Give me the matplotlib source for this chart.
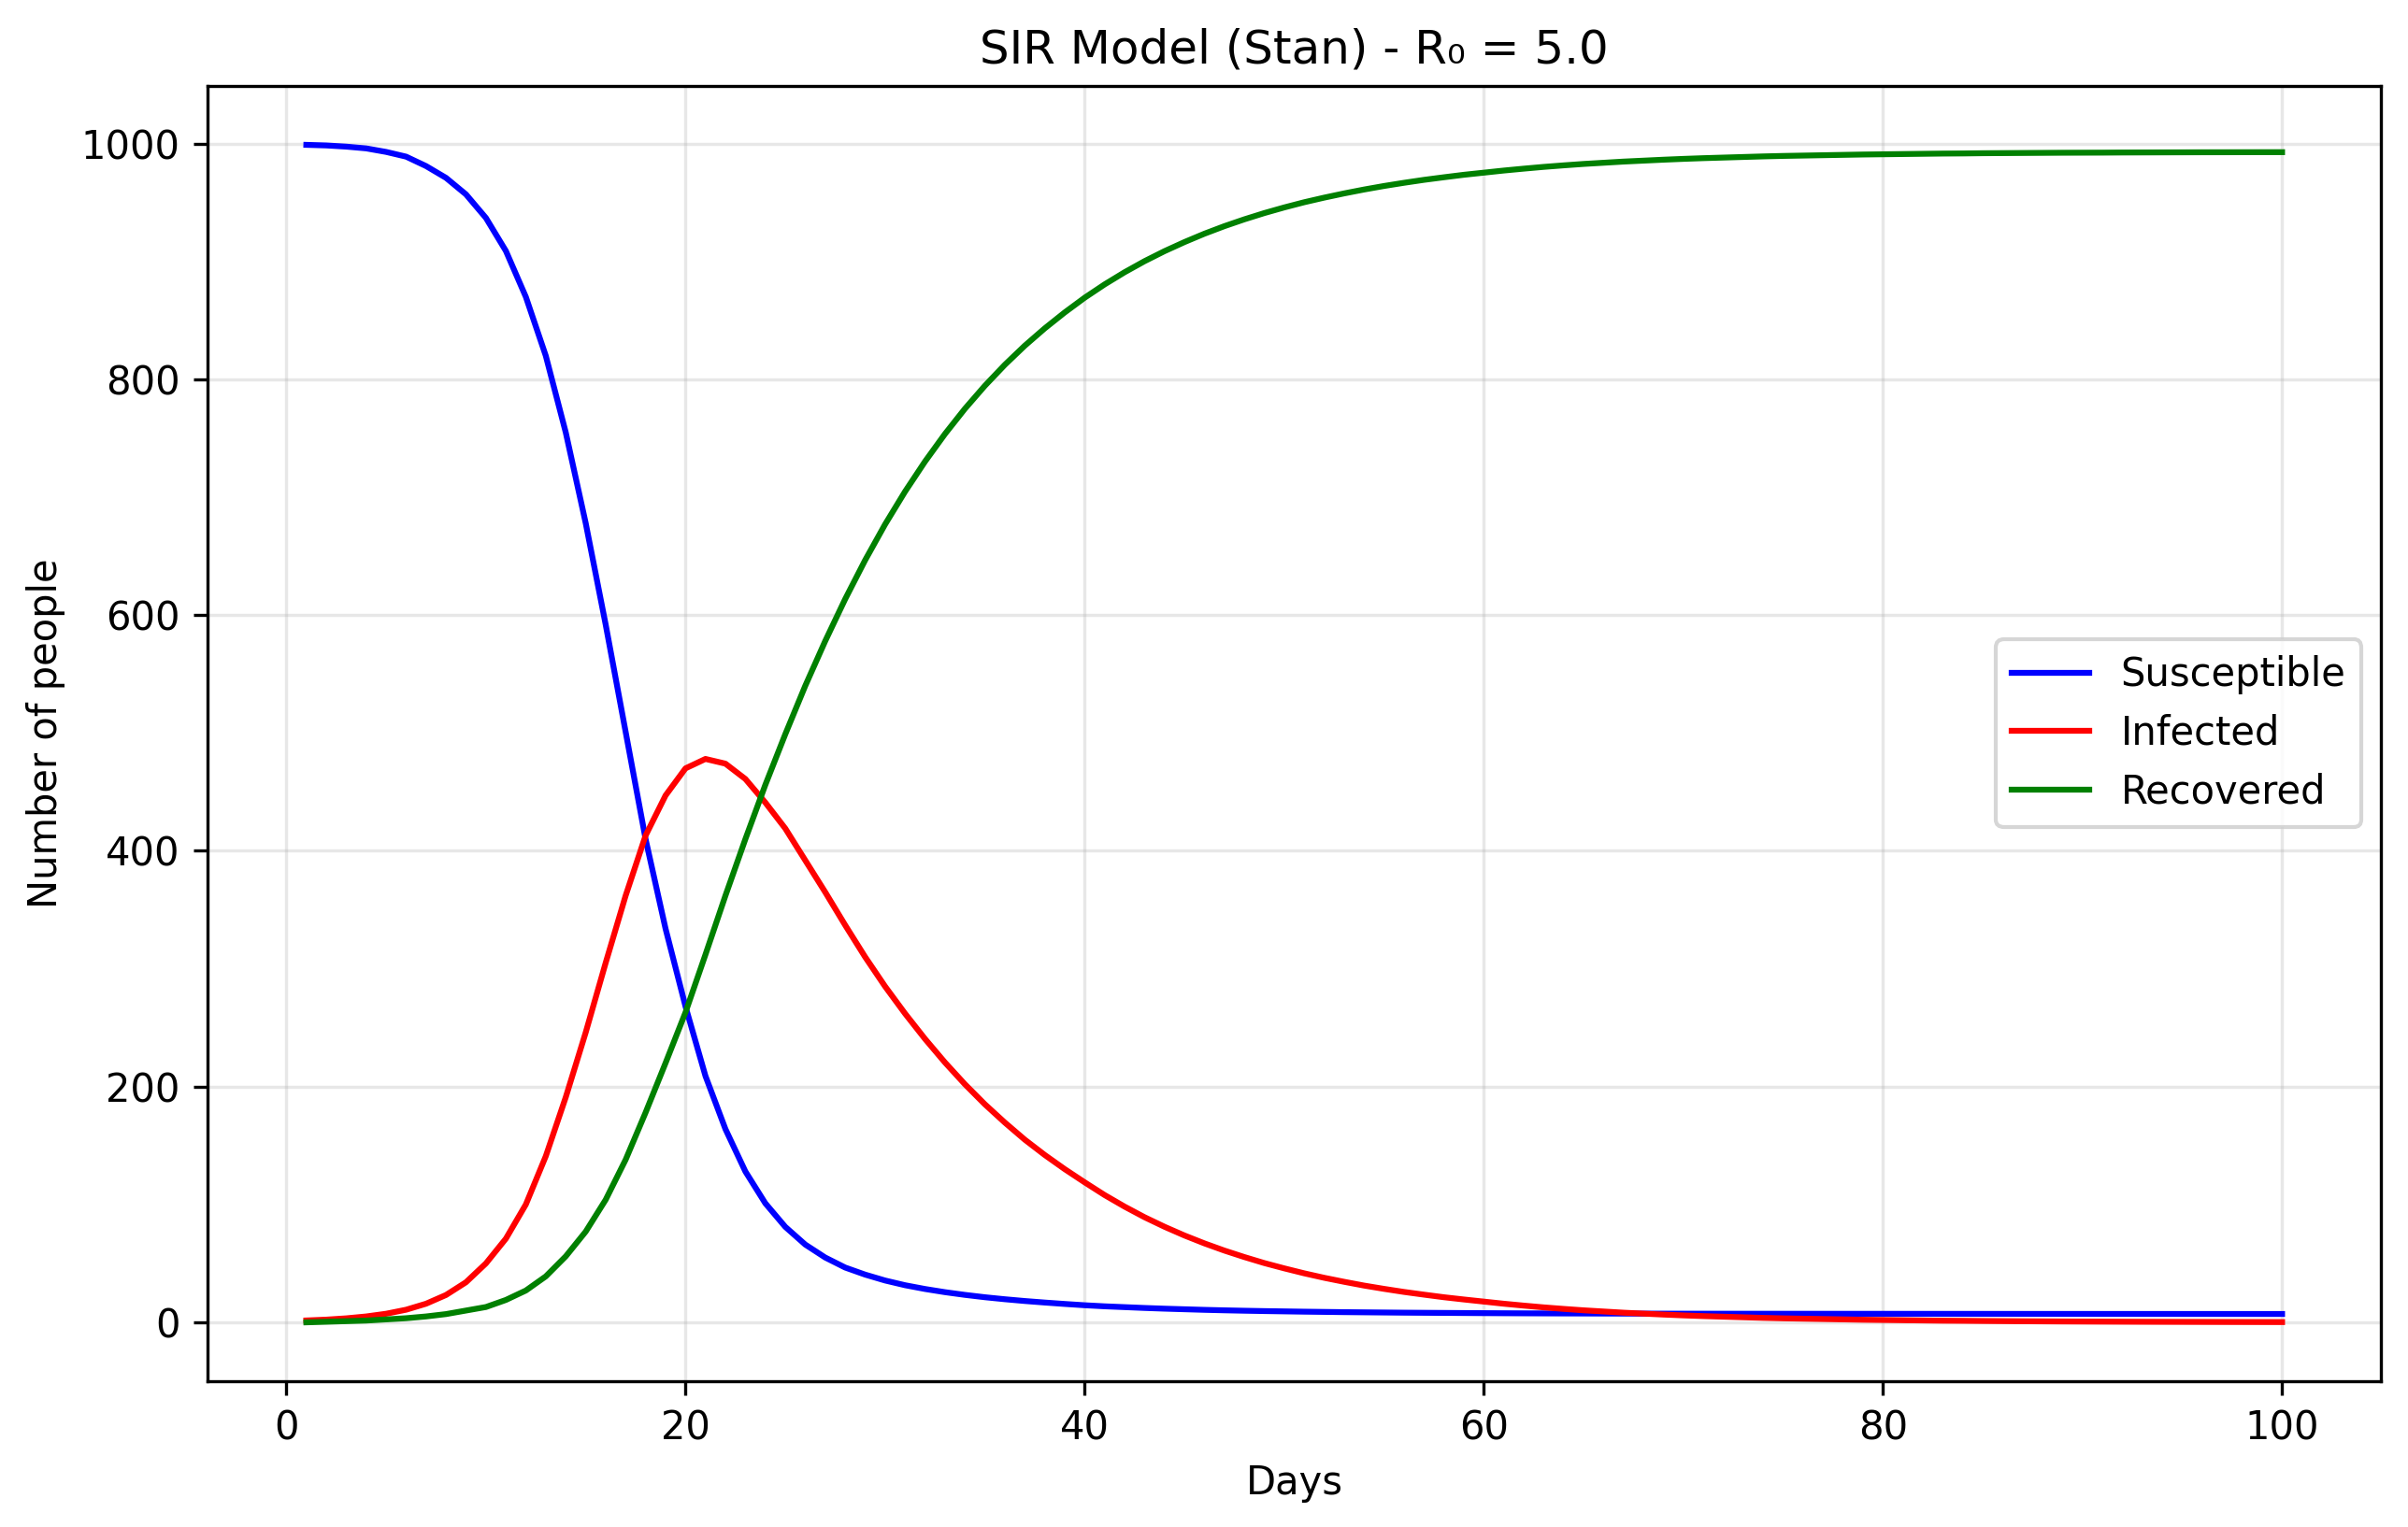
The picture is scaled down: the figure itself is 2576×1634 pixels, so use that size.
import numpy as np
import matplotlib
matplotlib.use('Agg')
import matplotlib.pyplot as plt

# -------------------- Data --------------------
days = list(range(1, 101))

susceptible = [
    999.0, 998.5, 997.5, 996.0, 993.0, 989.0, 981.0, 971.0, 957.0, 937.0,
    909.0, 870.0, 820.0, 755.0, 678.0, 592.0, 501.0, 410.0, 334.0, 268.0,
    209.0, 164.0, 128.0, 101.0, 81.0, 66.0, 55.0, 46.5, 40.5, 35.5,
    31.5, 28.3, 25.6, 23.3, 21.3, 19.6, 18.1, 16.8, 15.6, 14.5,
    13.6, 12.9, 12.2, 11.6, 11.1, 10.6, 10.2, 9.85, 9.55, 9.3,
    9.05, 8.85, 8.65, 8.5, 8.35, 8.2, 8.1, 8.0, 7.9, 7.8,
    7.72, 7.65, 7.59, 7.54, 7.5, 7.46, 7.43, 7.4, 7.38, 7.36,
    7.34, 7.32, 7.31, 7.3, 7.29, 7.28, 7.27, 7.26, 7.25, 7.24,
    7.23, 7.22, 7.21, 7.2, 7.19, 7.18, 7.17, 7.16, 7.15, 7.15,
    7.14, 7.14, 7.13, 7.13, 7.12, 7.12, 7.11, 7.11, 7.1, 7.1,
]

infected = [
    1.6, 2.3, 3.4, 5.0, 7.3, 10.7, 15.8, 23.2, 34.0, 50.0,
    71.0, 100.0, 141.0, 191.0, 246.0, 305.0, 362.0, 413.0, 447.0, 470.0,
    478.0, 474.0, 461.0, 441.0, 419.0, 392.0, 365.0, 337.0, 310.0, 285.0,
    262.0, 240.5, 220.5, 202.0, 185.0, 169.5, 155.0, 142.0, 130.0, 118.8,
    108.0, 98.2, 89.2, 81.1, 73.7, 67.0, 60.9, 55.4, 50.3, 45.8,
    41.6, 37.8, 34.4, 31.2, 28.4, 25.8, 23.5, 21.3, 19.4, 17.6,
    15.8, 14.2, 12.7, 11.4, 10.2, 9.2, 8.2, 7.4, 6.6, 5.9,
    5.3, 4.8, 4.3, 3.8, 3.4, 3.1, 2.8, 2.5, 2.2, 2.0,
    1.8, 1.6, 1.4, 1.3, 1.15, 1.03, 0.92, 0.83, 0.74, 0.67,
    0.6, 0.54, 0.48, 0.43, 0.39, 0.35, 0.31, 0.28, 0.25, 0.22,
]

recovered = [
    0.0, 0.5, 1.0, 1.5, 2.5, 3.5, 5.0, 7.0, 10.0, 13.0,
    19.0, 27.0, 39.0, 56.0, 77.0, 104.0, 138.0, 178.0, 220.0, 263.0,
    312.0, 362.0, 410.0, 456.0, 499.0, 540.0, 578.0, 613.6, 646.6, 677.0,
    704.8, 730.3, 753.7, 775.1, 794.6, 812.4, 828.6, 843.3, 856.8, 869.3,
    880.6, 890.9, 900.3, 908.8, 916.5, 923.6, 930.0, 935.8, 941.1, 945.9,
    950.3, 954.2, 957.8, 961.1, 964.1, 966.8, 969.3, 971.5, 973.6, 975.4,
    977.2, 978.8, 980.3, 981.6, 982.8, 983.8, 984.8, 985.6, 986.4, 987.1,
    987.7, 988.2, 988.7, 989.2, 989.6, 989.9, 990.2, 990.5, 990.8, 991.0,
    991.2, 991.4, 991.6, 991.7, 991.9, 992.0, 992.1, 992.2, 992.3, 992.35,
    992.4, 992.5, 992.55, 992.6, 992.65, 992.7, 992.72, 992.75, 992.78, 992.8,
]

R0 = 5.0
# ------------------------------------------------------------------------------

W, H, DPI = 2576, 1634, 300
fig = plt.figure(figsize=(W / DPI, H / DPI), dpi=DPI)
ax = fig.add_axes([222 / W, (H - 1478) / H, 2325 / W, 1386 / H])

ax.plot(days, susceptible, color='blue', label='Susceptible')
ax.plot(days, infected, color='red', label='Infected')
ax.plot(days, recovered, color='green', label='Recovered')

ax.set_xlabel('Days')
ax.set_ylabel('Number of people')
ax.set_title(f'SIR Model (Stan) - R\u2080 = {R0}')
ax.legend(loc='center right')
ax.grid(True, alpha=0.3)

fig.savefig('out.png', dpi=DPI)
